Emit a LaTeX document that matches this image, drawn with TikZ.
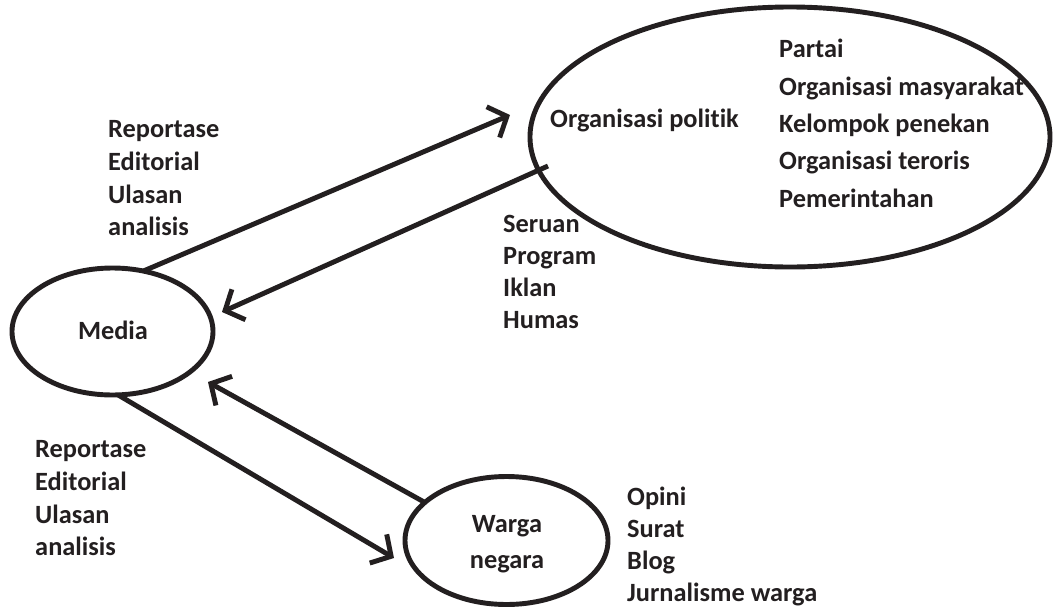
\documentclass[tikz,border=0pt]{standalone}
\usepackage{fontspec}
\setmainfont[Ligatures=NoCommon]{Carlito}
\usetikzlibrary{arrows.meta,shapes.geometric}
\definecolor{ink}{HTML}{231F20}
\tikzset{
  bubble/.style={ellipse,draw=ink,line width=4.2pt,inner sep=0pt,outer sep=0pt},
  conn/.style={draw=ink,line width=4.2pt,-{Straight Barb[length=0.45cm,width=1.0cm]}},
  lbl/.style={anchor=base west,inner sep=0pt,text=ink,font=\fontsize{22.5}{27}\selectfont\bfseries},
  clbl/.style={anchor=base,inner sep=0pt,text=ink,font=\fontsize{22.5}{27}\selectfont\bfseries}
}
\begin{document}
\begin{tikzpicture}[x=0.03cm,y=-0.03cm]
\path[use as bounding box,fill=white] (0,0) rectangle (1053,610);
% ellipses
\node[bubble,minimum width=6.03cm,minimum height=3.81cm] (media) at (112.5,331.5) {};
\node[bubble,minimum width=15.6cm,minimum height=7.8cm] (org) at (790,137) {};
\node[bubble,minimum width=6.09cm,minimum height=3.84cm] (warga) at (506.5,540.5) {};
% free arrow ends
\coordinate (t1) at (510,115);
\coordinate (s2) at (548,166);
\coordinate (t2) at (222,312);
\coordinate (t3) at (394,558);
\coordinate (t4) at (208,382);
% connectors
\draw[conn] (media.63.6) -- (t1);
\draw[conn] (s2) -- (t2);
\draw[conn] (media.-85) -- (t3);
\draw[conn] (warga.155) -- (t4);
% texts
\node[clbl] (tmedia) at (113,339) {Media};
\node[clbl] (tw1) at (507,532) {Warga};
\node[clbl] (tw2) at (507,568) {negara};
\node[lbl] (torg) at (550,127) {Organisasi politik};
\node[lbl] (p1) at (779,57) {Partai};
\node[lbl] (p2) at (779,95) {Organisasi masyarakat};
\node[lbl] (p3) at (779,132) {Kelompok penekan};
\node[lbl] (p4) at (779,169) {Organisasi teroris};
\node[lbl] (p5) at (779,207) {Pemerintahan};
\node[lbl] (r1) at (108,137) {Reportase};
\node[lbl] (r2) at (108,170) {Editorial};
\node[lbl] (r3) at (108,203) {Ulasan};
\node[lbl] (r4) at (108,235) {analisis};
\node[lbl] (s1) at (503,232) {Seruan};
\node[lbl] (s2l) at (503,264) {Program};
\node[lbl] (s3) at (503,296) {Iklan};
\node[lbl] (s4) at (503,328) {Humas};
\node[lbl] (b1) at (35,457) {Reportase};
\node[lbl] (b2) at (35,490) {Editorial};
\node[lbl] (b3) at (35,523) {Ulasan};
\node[lbl] (b4) at (35,555) {analisis};
\node[lbl] (o1) at (627,505) {Opini};
\node[lbl] (o2) at (627,537) {Surat};
\node[lbl] (o3) at (627,569) {Blog};
\node[lbl] (o4) at (627,601) {Jurnalisme warga};
\end{tikzpicture}
\end{document}
